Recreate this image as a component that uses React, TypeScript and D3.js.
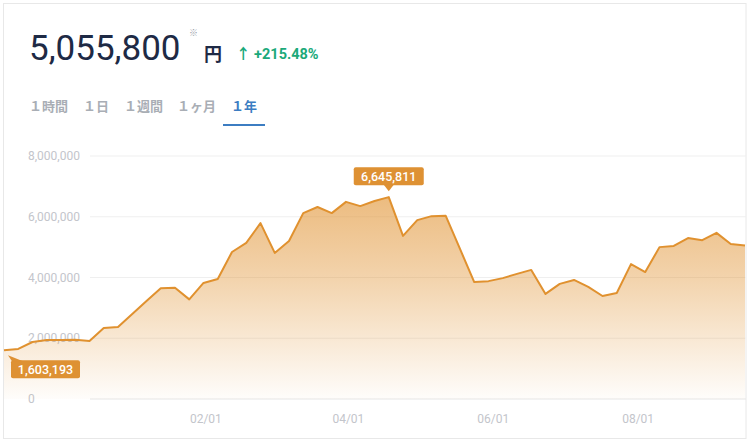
import * as d3 from 'd3';

const dates = [
  '2023-11-08', '2023-11-14', '2023-11-20', '2023-11-26', '2023-12-02', '2023-12-08', '2023-12-14',
  '2023-12-20', '2023-12-26', '2024-01-01', '2024-01-07', '2024-01-13', '2024-01-19', '2024-01-25',
  '2024-01-31', '2024-02-06', '2024-02-12', '2024-02-18', '2024-02-24', '2024-03-01', '2024-03-07',
  '2024-03-13', '2024-03-19', '2024-03-25', '2024-03-31', '2024-04-06', '2024-04-12', '2024-04-18',
  '2024-04-24', '2024-04-30', '2024-05-06', '2024-05-12', '2024-05-18', '2024-05-24', '2024-05-30',
  '2024-06-05', '2024-06-11', '2024-06-17', '2024-06-23', '2024-06-29', '2024-07-05', '2024-07-11',
  '2024-07-17', '2024-07-23', '2024-07-29', '2024-08-04', '2024-08-10', '2024-08-16', '2024-08-22',
  '2024-08-28', '2024-09-03', '2024-09-09', '2024-09-15',
];

const values = [
  1603193, 1650000, 1877000, 1940000, 1940000, 1950000, 1910000,
  2340000, 2370000, 2800000, 3230000, 3650000, 3660000, 3280000,
  3820000, 3950000, 4840000, 5140000, 5790000, 4810000, 5200000,
  6120000, 6320000, 6120000, 6490000, 6350000, 6520000, 6645811,
  5370000, 5890000, 6020000, 6030000, 4940000, 3850000, 3880000,
  3980000, 4120000, 4250000, 3460000, 3790000, 3920000, 3690000,
  3390000, 3490000, 4440000, 4180000, 5000000, 5040000, 5300000,
  5230000, 5470000, 5100000, 5055800,
];

const yTicks = [0, 2000000, 4000000, 6000000, 8000000];
const xTicks = ['2024-02-01', '2024-04-01', '2024-06-01', '2024-08-01'];
const tabs = ['１時間', '１日', '１週間', '１ヶ月', '１年'];
const tabX = [29, 83, 124, 177, 231];

const W = 751;
const H = 445;
const ORANGE = '#E0912F';
const parse = d3.timeParse('%Y-%m-%d');
const fmt = d3.format(',');

export default function App() {
  const data = dates.map((d, i) => ({ date: parse(d) as Date, value: values[i] }));

  const x = d3.scaleTime()
    .domain([parse(dates[0]) as Date, parse(dates[dates.length - 1]) as Date])
    .range([4, 745]);
  const y = d3.scaleLinear().domain([0, 8000000]).range([399, 156]);

  const line = d3.line<{ date: Date; value: number }>()
    .x((d) => x(d.date))
    .y((d) => y(d.value));
  const area = d3.area<{ date: Date; value: number }>()
    .x((d) => x(d.date))
    .y0(y(0))
    .y1((d) => y(d.value));

  const maxIdx = d3.maxIndex(values);
  const peak = data[maxIdx];
  const px = x(peak.date);
  const py = y(peak.value);
  const first = data[0];
  const fx = x(first.date);
  const fy = y(first.value);

  const font = 'Roboto, "Noto Sans CJK JP", sans-serif';

  return (
    <svg width={W} height={H} style={{ position: 'absolute', left: 0, top: 0, fontFamily: font }}>
      <defs>
        <linearGradient id="areaFill" x1="0" y1={y(8000000)} x2="0" y2={y(0)} gradientUnits="userSpaceOnUse">
          <stop offset="0" stopColor="#E0912F" stopOpacity={0.72} />
          <stop offset="0.5" stopColor="#E0912F" stopOpacity={0.4} />
          <stop offset="1" stopColor="#E0912F" stopOpacity={0.02} />
        </linearGradient>
      </defs>
      <rect x={3.5} y={3.5} width={742.5} height={435} fill="#fff" stroke="#E8E8E8" />

      {/* header */}
      <text x={29} y={60} fontSize={35} fill="#1E2A45" style={{ fontWeight: 400 }}>5,055,800</text>
      <text x={189} y={36} fontSize={9} fill="#9AA0AA">※</text>
      <text x={204} y={61} fontSize={18} fontWeight={700} fill="#1E2A45" fontFamily='"Noto Sans CJK JP", sans-serif'>円</text>
      <text x={236} y={59} fontSize={14.5} fontWeight={700} fill="#1BA97A">↑ +215.48%</text>

      {tabs.map((t, i) => (
        <text key={t} x={tabX[i]} y={111} fontSize={13} fontWeight={700}
          fill={i === tabs.length - 1 ? '#3C7DC2' : '#A9AEB5'}
          fontFamily='"Noto Sans CJK JP", sans-serif'>{t}</text>
      ))}
      <rect x={223} y={124} width={42} height={2} fill="#3C7DC2" />

      {/* grid */}
      {yTicks.map((t) => (
        <g key={t}>
          <line x1={90} x2={746} y1={y(t)} y2={y(t)} stroke={t === 0 ? '#E6E6E6' : '#EFEFEF'} strokeWidth={1} />
          <text x={28} y={y(t)} dy="0.35em" fontSize={12} fill="#C3C5CB">{fmt(t)}</text>
        </g>
      ))}

      <path d={area(data) ?? ''} fill="url(#areaFill)" />
      <path d={line(data) ?? ''} fill="none" stroke={ORANGE} strokeWidth={2} strokeLinejoin="round" />

      {xTicks.map((t) => (
        <text key={t} x={x(parse(t) as Date)} y={423} textAnchor="middle" fontSize={12} fill="#C3C5CB">
          {d3.timeFormat('%m/%d')(parse(t) as Date)}
        </text>
      ))}

      {/* peak label */}
      <g>
        <rect x={px - 35} y={py - 30} width={70} height={18} rx={2} fill="#DE9133" />
        <path d={`M${px - 5},${py - 12.5} L${px},${py - 6} L${px + 5},${py - 12.5} Z`} fill="#DE9133" />
        <text x={px} y={py - 21} dy="0.35em" textAnchor="middle" fontSize={12.5} fontWeight={500} fill="#fff">{fmt(peak.value)}</text>
      </g>

      {/* start label */}
      <g>
        <rect x={fx + 7} y={fy + 10} width={69} height={18} rx={2} fill="#DE9133" />
        <path d={`M${fx + 4},${fy + 5} L${fx + 8},${fy + 11} L${fx + 19},${fy + 11} Z`} fill="#DE9133" />
        <text x={fx + 41.5} y={fy + 19} dy="0.35em" textAnchor="middle" fontSize={12.5} fontWeight={500} fill="#fff">{fmt(first.value)}</text>
      </g>
    </svg>
  );
}
